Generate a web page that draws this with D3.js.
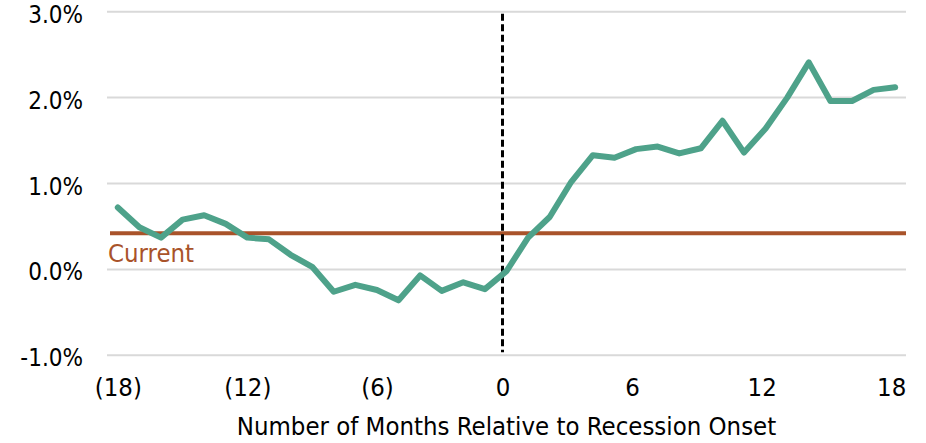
<!DOCTYPE html>
<html>
<head>
<meta charset="utf-8">
<script src="https://cdn.jsdelivr.net/npm/d3@7"></script>
<style>
  html, body { margin: 0; padding: 0; background: #fff; }
  svg { display: block; }
  text { font-family: "DejaVu Sans Condensed", "DejaVu Sans", sans-serif; }
</style>
</head>
<body>
<svg id="chart" width="926" height="443"></svg>
<script>
// Months relative to recession onset
const months = d3.range(-18, 19);
// Average change (%) at each month
const values = [
  0.72, 0.49, 0.37, 0.58, 0.63, 0.53, 0.37, 0.35, 0.17, 0.03,
  -0.26, -0.18, -0.24, -0.36, -0.07, -0.25, -0.15, -0.23, -0.02,
  0.37, 0.61, 1.02, 1.33, 1.30, 1.40, 1.43, 1.35, 1.41, 1.73,
  1.36, 1.64, 2.00, 2.41, 1.96, 1.96, 2.09, 2.12
];
const currentValue = 0.42;
const currentLabel = "Current";
const yTicks = [-1, 0, 1, 2, 3];
const xTicks = [-18, -12, -6, 0, 6, 12, 18];
const xTitle = "Number of Months Relative to Recession Onset";

const FONT = 25.5;
const svg = d3.select("#chart");
const plot = { left: 107, right: 906, top: 11.7, bottom: 355.3 };

// Categories sit in the middle of equal slots across the plot
const slot = (plot.right - plot.left) / months.length;
const x = d3.scaleLinear()
  .domain([-18, 18])
  .range([plot.left + slot / 2, plot.right - slot / 2]);
const y = d3.scaleLinear().domain([-1, 3]).range([plot.bottom, plot.top]);

const fmtX = v => v < 0 ? `(${-v})` : `${v}`;
const fmtY = v => (v < 0 ? "-" : "") + Math.abs(v).toFixed(1) + "%";

// Horizontal gridlines
svg.append("g")
  .selectAll("line")
  .data(yTicks)
  .join("line")
  .attr("x1", plot.left).attr("x2", plot.right)
  .attr("y1", d => y(d)).attr("y2", d => y(d))
  .attr("stroke", "#d9d9d9").attr("stroke-width", 2);

// Y axis labels
const yAxis = svg.append("g")
  .attr("transform", `translate(${plot.left - 24},0)`)
  .call(d3.axisLeft(y).tickValues(yTicks).tickFormat(fmtY).tickSize(0).tickPadding(0));
yAxis.select(".domain").remove();
yAxis.selectAll("text")
  .attr("font-size", 24).attr("fill", "#000")
  .attr("dy", 10.5)
  .style("font-family", "'DejaVu Sans Condensed', sans-serif");

// X axis labels (positive values keep a trailing paren-width gap)
const xAxis = svg.append("g")
  .attr("transform", `translate(0,${plot.bottom + 23})`)
  .call(d3.axisBottom(x).tickValues(xTicks).tickFormat(fmtX).tickSize(0).tickPadding(0));
xAxis.select(".domain").remove();
xAxis.selectAll("text")
  .attr("font-size", FONT).attr("fill", "#000")
  .attr("dx", d => d >= 0 ? -4 : 0)
  .style("font-family", "'DejaVu Sans Condensed', sans-serif");

// Axis title
svg.append("text")
  .attr("x", (plot.left + plot.right) / 2)
  .attr("y", 435)
  .attr("text-anchor", "middle")
  .attr("font-size", FONT)
  .attr("fill", "#000")
  .text(xTitle);

// Current level
svg.append("line")
  .attr("x1", plot.left + 3).attr("x2", plot.right)
  .attr("y1", y(currentValue)).attr("y2", y(currentValue))
  .attr("stroke", "#a9532a").attr("stroke-width", 4);

svg.append("text")
  .attr("x", plot.left + 1)
  .attr("y", y(currentValue) + 29)
  .attr("font-size", FONT)
  .attr("fill", "#a9532a")
  .text(currentLabel);

// Recession onset marker
svg.append("line")
  .attr("x1", x(0) - 4).attr("x2", x(0) - 4)
  .attr("y1", plot.top + 2).attr("y2", plot.bottom - 3)
  .attr("stroke", "#000").attr("stroke-width", 3)
  .attr("stroke-dasharray", "7,3.5");

// Series line
const line = d3.line()
  .x((d, i) => x(months[i]))
  .y(d => y(d));

svg.append("path")
  .datum(values)
  .attr("d", line)
  .attr("fill", "none")
  .attr("stroke", "#4ea28a")
  .attr("stroke-width", 6)
  .attr("stroke-linejoin", "round")
  .attr("stroke-linecap", "round");
</script>
</body>
</html>
